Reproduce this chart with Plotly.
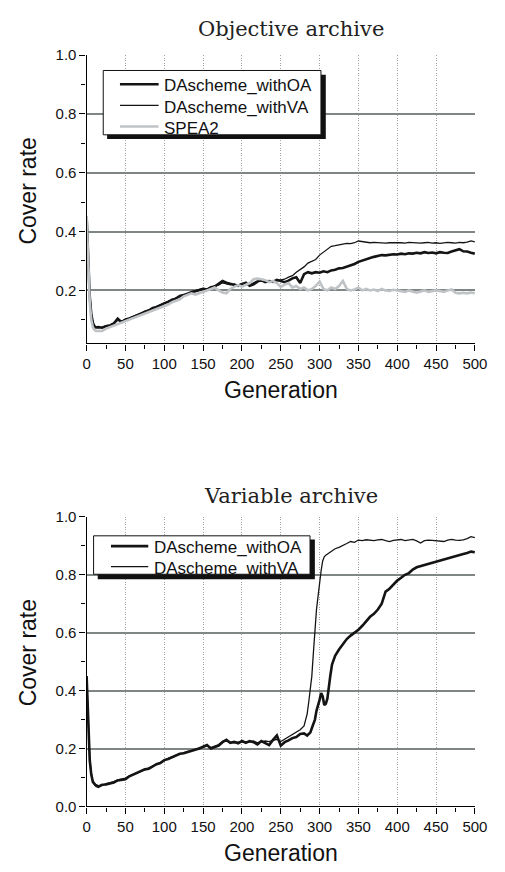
import plotly.graph_objects as go

W, H = 505, 872

series_names = ["DAscheme_withOA", "DAscheme_withVA", "SPEA2"]
chart_titles = ["Objective archive", "Variable archive"]
x_title = "Generation"
y_title = "Cover rate"

x_ticks = [0, 50, 100, 150, 200, 250, 300, 350, 400, 450, 500]
x_grid = [50, 100, 150, 200, 250, 300, 350, 400, 450]
y_ticks_top = [0.2, 0.4, 0.6, 0.8, 1.0]
y_ticks_bot = [0.0, 0.2, 0.4, 0.6, 0.8, 1.0]
y_minor = [0.1, 0.3, 0.5, 0.7, 0.9]
y_grid = [0.2, 0.4, 0.6, 0.8]

# ---------------- Objective archive ----------------
obj_gen = [0, 2, 4, 6, 8, 10, 12] + list(range(15, 501, 5))

obj_oa = [0.45, 0.30, 0.18, 0.12, 0.09, 0.078, 0.074,
          0.075, 0.073, 0.078, 0.080, 0.087, 0.104, 0.092, 0.100,
          0.104, 0.110, 0.114, 0.121, 0.127, 0.131, 0.140, 0.143, 0.150, 0.156,
          0.161, 0.168, 0.172, 0.181, 0.184, 0.190, 0.194, 0.197, 0.201, 0.205,
          0.203, 0.211, 0.213, 0.221, 0.232, 0.226, 0.222, 0.218, 0.215, 0.221,
          0.226, 0.216, 0.221, 0.230, 0.236, 0.228, 0.232, 0.229, 0.236, 0.232,
          0.228, 0.233, 0.241, 0.245, 0.225, 0.255, 0.262, 0.258, 0.262, 0.260,
          0.265, 0.262, 0.268, 0.270, 0.275, 0.276, 0.280, 0.284, 0.290, 0.297,
          0.302, 0.306, 0.310, 0.314, 0.318, 0.320, 0.319, 0.322, 0.323, 0.322,
          0.325, 0.323, 0.326, 0.325, 0.328, 0.326, 0.330, 0.327, 0.329, 0.326,
          0.330, 0.328, 0.327, 0.332, 0.336, 0.340, 0.333, 0.332, 0.328, 0.325]

obj_va = [0.45, 0.31, 0.19, 0.125, 0.092, 0.080, 0.076,
          0.074, 0.075, 0.080, 0.083, 0.090, 0.098, 0.095, 0.103,
          0.107, 0.112, 0.118, 0.123, 0.130, 0.134, 0.139, 0.146, 0.152, 0.158,
          0.163, 0.166, 0.175, 0.178, 0.186, 0.188, 0.196, 0.199, 0.203, 0.207,
          0.205, 0.209, 0.216, 0.218, 0.226, 0.223, 0.219, 0.222, 0.218, 0.224,
          0.221, 0.219, 0.226, 0.232, 0.231, 0.230, 0.228, 0.233, 0.232, 0.236,
          0.238, 0.245, 0.250, 0.262, 0.270, 0.280, 0.293, 0.300, 0.305, 0.320,
          0.330, 0.342, 0.350, 0.352, 0.355, 0.358, 0.360, 0.359, 0.362, 0.368,
          0.366, 0.364, 0.362, 0.363, 0.362, 0.363, 0.361, 0.362, 0.363, 0.362,
          0.362, 0.361, 0.363, 0.362, 0.362, 0.361, 0.362, 0.363, 0.361, 0.362,
          0.360, 0.362, 0.363, 0.362, 0.361, 0.363, 0.362, 0.364, 0.368, 0.365]

obj_spea2 = [0.45, 0.28, 0.16, 0.10, 0.075, 0.066, 0.062,
             0.063, 0.062, 0.070, 0.075, 0.080, 0.085, 0.090, 0.095,
             0.100, 0.105, 0.110, 0.116, 0.120, 0.126, 0.130, 0.136, 0.140, 0.146,
             0.152, 0.160, 0.165, 0.170, 0.180, 0.185, 0.190, 0.186, 0.190, 0.195,
             0.200, 0.205, 0.210, 0.200, 0.193, 0.190, 0.205, 0.212, 0.218, 0.213,
             0.220, 0.225, 0.238, 0.240, 0.238, 0.235, 0.228, 0.232, 0.225, 0.212,
             0.220, 0.225, 0.210, 0.215, 0.205, 0.210, 0.200, 0.205, 0.215, 0.230,
             0.205, 0.200, 0.210, 0.205, 0.215, 0.232, 0.205, 0.200, 0.203, 0.210,
             0.200, 0.205, 0.200, 0.203, 0.198, 0.205, 0.200, 0.198, 0.202, 0.200,
             0.198, 0.195, 0.200, 0.197, 0.192, 0.196, 0.200, 0.195, 0.197, 0.200,
             0.198, 0.195, 0.200, 0.203, 0.192, 0.190, 0.192, 0.190, 0.193, 0.190]

# ---------------- Variable archive ----------------
var_gen = ([0, 2, 4, 6, 8, 10, 12] + list(range(15, 280, 5))
           + list(range(280, 320, 2)) + list(range(320, 501, 5)))

var_oa = [0.45, 0.28, 0.16, 0.11, 0.085, 0.078, 0.072,
          0.068, 0.075, 0.076, 0.080, 0.083, 0.090, 0.092, 0.094,
          0.104, 0.110, 0.114, 0.120, 0.128, 0.130, 0.138, 0.146, 0.150, 0.160,
          0.164, 0.170, 0.176, 0.182, 0.184, 0.188, 0.193, 0.195, 0.200, 0.206,
          0.212, 0.200, 0.206, 0.210, 0.222, 0.230, 0.220, 0.223, 0.218, 0.226,
          0.220, 0.226, 0.222, 0.214, 0.226, 0.220, 0.212, 0.230, 0.245, 0.210,
          0.222, 0.228, 0.236, 0.240, 0.250,
          0.252, 0.248, 0.245, 0.250, 0.255, 0.270, 0.285, 0.300, 0.330, 0.355,
          0.368, 0.392, 0.380, 0.350, 0.355, 0.372, 0.420, 0.455, 0.490, 0.505,
          0.520, 0.542, 0.562, 0.578, 0.590, 0.600, 0.610, 0.624, 0.640, 0.655,
          0.665, 0.680, 0.700, 0.742, 0.752, 0.768, 0.780, 0.790, 0.800, 0.806,
          0.818, 0.826, 0.830, 0.834, 0.838, 0.842, 0.845, 0.850, 0.854, 0.858,
          0.860, 0.866, 0.868, 0.872, 0.875, 0.880, 0.878]

var_va = [0.45, 0.29, 0.17, 0.115, 0.088, 0.080, 0.075,
          0.072, 0.073, 0.079, 0.082, 0.086, 0.092, 0.095, 0.098,
          0.106, 0.112, 0.117, 0.122, 0.127, 0.133, 0.140, 0.144, 0.152, 0.158,
          0.166, 0.171, 0.175, 0.180, 0.186, 0.190, 0.192, 0.197, 0.202, 0.204,
          0.209, 0.203, 0.208, 0.214, 0.225, 0.226, 0.222, 0.220, 0.222, 0.223,
          0.224, 0.222, 0.226, 0.220, 0.222, 0.226, 0.224, 0.228, 0.232, 0.224,
          0.232, 0.240, 0.250, 0.258, 0.265,
          0.278, 0.295, 0.320, 0.360, 0.405, 0.450, 0.530, 0.610, 0.680, 0.725,
          0.780, 0.815, 0.848, 0.862, 0.868, 0.872, 0.874, 0.878, 0.882, 0.886,
          0.890, 0.895, 0.903, 0.908, 0.915, 0.912, 0.920, 0.918, 0.921, 0.919,
          0.918, 0.921, 0.922, 0.918, 0.915, 0.919, 0.920, 0.922, 0.918, 0.921,
          0.922, 0.917, 0.910, 0.918, 0.920, 0.919, 0.918, 0.916, 0.915, 0.920,
          0.922, 0.920, 0.919, 0.921, 0.925, 0.932, 0.928]

# ---------------- styles ----------------
BLACK = "#141414"
GRAY = "#c0c3c6"
TICK_FONT = dict(family="Liberation Sans, Arial, sans-serif", size=15, color="#111")
LINE_W = {"DAscheme_withOA": 2.6, "DAscheme_withVA": 1.3, "SPEA2": 2.6}
LINE_C = {"DAscheme_withOA": BLACK, "DAscheme_withVA": BLACK, "SPEA2": GRAY}


def px(x):
    return x / W


def py(y):
    return 1 - y / H


fig = go.Figure()

# invisible carrier traces so the grid-only overlay axes get drawn
for xa, ya in [("x3", "y3"), ("x4", "y4")]:
    fig.add_trace(go.Scatter(x=[None], y=[None], mode="lines", showlegend=False,
                             hoverinfo="skip", xaxis=xa, yaxis=ya))

# top chart traces
for name, vals in [("DAscheme_withOA", obj_oa), ("DAscheme_withVA", obj_va), ("SPEA2", obj_spea2)]:
    fig.add_trace(go.Scatter(x=obj_gen, y=vals, mode="lines", name=name, showlegend=False,
                             line=dict(color=LINE_C[name], width=LINE_W[name]),
                             xaxis="x", yaxis="y"))
# bottom chart traces
for name, vals in [("DAscheme_withVA", var_va), ("DAscheme_withOA", var_oa)]:
    fig.add_trace(go.Scatter(x=var_gen, y=vals, mode="lines", name=name, showlegend=False,
                             line=dict(color=LINE_C[name], width=LINE_W[name]),
                             xaxis="x2", yaxis="y2"))

XDOM = [px(85.5), px(487.3)]
TOP_DOM = [py(341), py(47)]
BOT_DOM = [py(813.3), py(518)]


def xaxis_main(anchor):
    return dict(domain=XDOM, anchor=anchor, range=[0, 500], tickmode="array", tickvals=x_ticks,
                ticks="outside", ticklen=6, tickwidth=1.2, tickcolor="black",
                minor=dict(dtick=25, tick0=0, ticks="outside", ticklen=4, tickwidth=1.2, tickcolor="black"),
                showline=True, linecolor="black", linewidth=1.4, showgrid=False, zeroline=False,
                tickfont=TICK_FONT, fixedrange=True)


def yaxis_main(anchor, dom, rng, tv):
    return dict(domain=dom, anchor=anchor, range=rng, tickmode="array", tickvals=tv, tickformat=".1f",
                ticks="outside", ticklen=6, tickwidth=1.2, tickcolor="black",
                minor=dict(tickmode="array", tickvals=y_minor, ticks="outside", ticklen=4,
                           tickwidth=1.2, tickcolor="black"),
                showline=True, linecolor="black", linewidth=1.4, showgrid=False, zeroline=False,
                tickfont=TICK_FONT, fixedrange=True)


def xaxis_grid(over, anchor):
    return dict(overlaying=over, anchor=anchor, range=[0, 500], tickmode="array", tickvals=x_grid,
                showgrid=True, gridcolor="#a2a2a2", gridwidth=1, griddash="1px,1.5px",
                showticklabels=False, ticks="", showline=False, zeroline=False, fixedrange=True)


def yaxis_grid(over, anchor, rng):
    return dict(overlaying=over, anchor=anchor, range=rng, tickmode="array", tickvals=y_grid,
                showgrid=True, gridcolor="#7f8684", gridwidth=1.5,
                showticklabels=False, ticks="", showline=False, zeroline=False, fixedrange=True)


fig.update_layout(
    width=W, height=H, margin=dict(l=0, r=0, t=0, b=0),
    paper_bgcolor="white", plot_bgcolor="rgba(0,0,0,0)", showlegend=False,
    xaxis=xaxis_main("y"),
    yaxis=yaxis_main("x", TOP_DOM, [0.02, 1.0], y_ticks_top),
    xaxis2=xaxis_main("y2"),
    yaxis2=yaxis_main("x2", BOT_DOM, [0.0, 1.0], y_ticks_bot),
    xaxis3=xaxis_grid("x", "y3"),
    yaxis3=yaxis_grid("y", "x3", [0.02, 1.0]),
    xaxis4=xaxis_grid("x2", "y4"),
    yaxis4=yaxis_grid("y2", "x4", [0.0, 1.0]),
)

shapes = []
annotations = []

# titles and axis titles
TITLE_FONT = dict(family="DejaVu Serif, serif", size=21, color="#222")
AX_FONT = dict(family="Liberation Sans, Arial, sans-serif", size=23, color="#111")
for title, ty, gy, cy in [(chart_titles[0], 20, 389, 186), (chart_titles[1], 497, 861, 657)]:
    annotations.append(dict(text=title, x=px(297), y=py(ty), xref="paper", yref="paper",
                            xanchor="center", yanchor="middle", showarrow=False, font=TITLE_FONT))
    annotations.append(dict(text=x_title, x=px(287), y=py(gy), xref="paper", yref="paper",
                            xanchor="center", yanchor="middle", showarrow=False, font=AX_FONT))
    annotations.append(dict(text=y_title, x=px(25), y=py(cy), xref="paper", yref="paper",
                            xanchor="center", yanchor="middle", showarrow=False, textangle=-90,
                            font=AX_FONT))

# legends (drawn boxes with drop shadow)
LEG_FONT = dict(family="Liberation Sans, Arial, sans-serif", size=17, color="#111")


def legend(box, shadow, names, rows, lx0, lx1, tx):
    x0, y0, x1, y1 = box
    sx0, sy0, sx1, sy1 = shadow
    shapes.append(dict(type="rect", xref="paper", yref="paper", x0=px(sx0), x1=px(sx1),
                       y0=py(sy1), y1=py(sy0), fillcolor="#111", line=dict(width=0), layer="above"))
    shapes.append(dict(type="rect", xref="paper", yref="paper", x0=px(x0), x1=px(x1),
                       y0=py(y1), y1=py(y0), fillcolor="white", line=dict(color="#111", width=1),
                       layer="above"))
    for name, ry in zip(names, rows):
        shapes.append(dict(type="line", xref="paper", yref="paper", x0=px(lx0), x1=px(lx1),
                           y0=py(ry - 1.2), y1=py(ry - 1.2),
                           line=dict(color=LINE_C[name], width=LINE_W[name]), layer="above"))
        annotations.append(dict(text=name, x=px(tx), y=py(ry + 0.5), xref="paper", yref="paper",
                                xanchor="left", yanchor="middle", showarrow=False, font=LEG_FONT))


legend((102.7, 62.7, 328, 128.3), (106.7, 67, 333, 132.7), series_names,
       [78, 99.5, 121], 120, 160, 163)
legend((92.7, 537.3, 316.7, 576.5), (97, 541, 321.7, 581.7), series_names[:2],
       [549, 570], 110.7, 149.3, 153)

fig.update_layout(shapes=shapes, annotations=annotations)

fig.write_html("out.html")
